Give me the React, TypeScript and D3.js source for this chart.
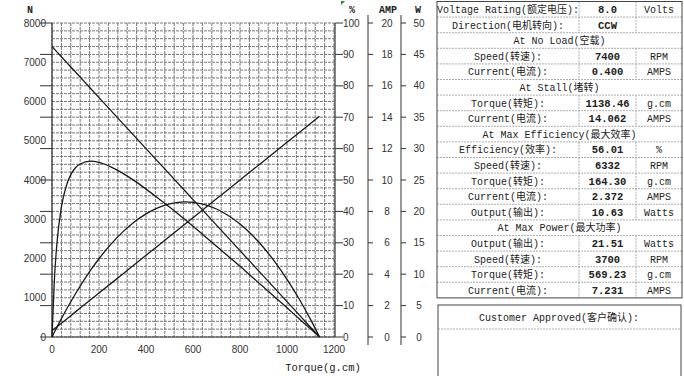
import React from "react";
import * as d3 from "d3";

const torque = [0, 10, 20, 40, 60, 80, 100, 120, 164.3, 200, 250, 300, 350, 400, 450, 500, 569.23, 600, 650, 700, 750, 800, 850, 900, 950, 1000, 1050, 1100, 1138.46];
const speed = [7400, 7335, 7270, 7140, 7010, 6880, 6750, 6620, 6332, 6100, 5775, 5450, 5125, 4800, 4475, 4150, 3700, 3500, 3175, 2850, 2525, 2200, 1875, 1550, 1225, 900, 575, 250, 0];
const current = [0.4, 0.52, 0.64, 0.88, 1.12, 1.36, 1.6, 1.84, 2.37, 2.8, 3.4, 4.0, 4.6, 5.2, 5.8, 6.4, 7.23, 7.6, 8.2, 8.8, 9.4, 10.0, 10.6, 11.2, 11.8, 12.4, 13.0, 13.6, 14.06];
const efficiency = [0, 18.0, 29.0, 41.4, 47.9, 51.7, 53.9, 55.1, 56.0, 55.6, 54.2, 52.2, 49.8, 47.1, 44.3, 41.4, 37.2, 35.3, 32.1, 28.9, 25.7, 22.5, 19.2, 15.9, 12.6, 9.3, 5.9, 2.6, 0];
const output = [0, 0.75, 1.49, 2.92, 4.3, 5.62, 6.89, 8.11, 10.63, 12.46, 14.75, 16.7, 18.32, 19.61, 20.57, 21.19, 21.51, 21.45, 21.08, 20.38, 19.34, 17.98, 16.28, 14.25, 11.89, 9.19, 6.17, 2.81, 0];

const xTicks = [0, 200, 400, 600, 800, 1000, 1200];
const nTicks = [0, 1000, 2000, 3000, 4000, 5000, 6000, 7000, 8000];
const pctTicks = [0, 10, 20, 30, 40, 50, 60, 70, 80, 90, 100];
const ampTicks = [0, 2, 4, 6, 8, 10, 12, 14, 16, 18, 20];
const wTicks = [0, 5, 10, 15, 20, 25, 30, 35, 40, 45, 50];

const tableRows: string[][] = [
  ["Voltage Rating(额定电压):", "8.0", "Volts"],
  ["Direction(电机转向):", "CCW", ""],
  ["At No Load(空载)"],
  ["Speed(转速):", "7400", "RPM"],
  ["Current(电流):", "0.400", "AMPS"],
  ["At Stall(堵转)"],
  ["Torque(转矩):", "1138.46", "g.cm"],
  ["Current(电流):", "14.062", "AMPS"],
  ["At Max Efficiency(最大效率)"],
  ["Efficiency(效率):", "56.01", "%"],
  ["Speed(转速):", "6332", "RPM"],
  ["Torque(转矩):", "164.30", "g.cm"],
  ["Current(电流):", "2.372", "AMPS"],
  ["Output(输出):", "10.63", "Watts"],
  ["At Max Power(最大功率)"],
  ["Output(输出):", "21.51", "Watts"],
  ["Speed(转速):", "3700", "RPM"],
  ["Torque(转矩):", "569.23", "g.cm"],
  ["Current(电流):", "7.231", "AMPS"],
];

const MONO = "'Liberation Mono', 'Noto Sans CJK SC', monospace";
const SANS = "'Liberation Sans', Arial, sans-serif";

export default function App() {
  const left = 52, right = 334, top = 23, bottom = 337;
  const x = d3.scaleLinear().domain([0, 1200]).range([left, right]);
  const yPct = d3.scaleLinear().domain([0, 100]).range([bottom, top]);
  const yN = d3.scaleLinear().domain([0, 8000]).range([bottom, top]);
  const yA = d3.scaleLinear().domain([0, 20]).range([bottom, top]);
  const yW = d3.scaleLinear().domain([0, 50]).range([bottom, top]);

  const mk = (vals: number[], ys: d3.ScaleLinear<number, number>, curve: d3.CurveFactory) =>
    d3.line<number>().x((_, i) => x(torque[i])).y((v) => ys(v)).curve(curve)(vals) || "";

  const vGrid = d3.range(0, 1201, 40);
  const hGrid = d3.range(0, 100.01, 2.5);

  const ampX = 368, wX = 401;

  // table geometry
  const tx0 = 437, tx1 = 579, tx2 = 636, tx3 = 682;
  const ty0 = 1.5, rowH = 15.6;
  const tBottom = ty0 + rowH * tableRows.length;

  return (
    <div style={{ position: "absolute", left: 0, top: 0 }}>
      <svg width={684} height={376} style={{ display: "block", background: "#fff" }}>
        <rect x={0} y={0} width={684} height={376} fill="#fff" />
        {/* grid */}
        <g stroke="#555" strokeWidth={0.8} strokeDasharray="3 1">
          {vGrid.map((t) => (
            <line key={"v" + t} x1={x(t)} x2={x(t)} y1={top} y2={bottom} />
          ))}
          {hGrid.map((p) => (
            <line key={"h" + p} x1={left} x2={right} y1={yPct(p)} y2={yPct(p)} />
          ))}
        </g>
        {/* frame */}
        <g stroke="#333" strokeWidth={1.2}>
          <line x1={left} x2={left} y1={top} y2={bottom} />
          <line x1={left} x2={right + 1} y1={bottom} y2={bottom} />
          <line x1={right + 1} x2={right + 1} y1={top} y2={bottom} />
        </g>
        {/* left axis ticks at 10% positions */}
        <g stroke="#333" strokeWidth={1}>
          {pctTicks.map((p) => (
            <line key={"lt" + p} x1={40} x2={left} y1={yPct(p)} y2={yPct(p)} />
          ))}
        </g>
        <g fontFamily={SANS} fontSize={10} fill="#333" textAnchor="end">
          {nTicks.map((n) => (
            <text key={"n" + n} x={46} y={yN(n) + 3.5}>{n}</text>
          ))}
        </g>
        <text x={30} y={13} fontFamily={MONO} fontSize={10} fontWeight="bold" fill="#222" textAnchor="middle">N</text>
        {/* bottom axis labels */}
        <g fontFamily={SANS} fontSize={10} fill="#333" textAnchor="middle">
          {xTicks.map((t) => (
            <text key={"x" + t} x={x(t)} y={353}>{t}</text>
          ))}
        </g>
        <text x={323} y={371} fontFamily={MONO} fontSize={10.5} fill="#222" textAnchor="middle">Torque(g.cm)</text>

        {/* % axis */}
        <g stroke="#333" strokeWidth={1}>
          {pctTicks.map((p) => (
            <line key={"pt" + p} x1={right + 1} x2={343} y1={yPct(p)} y2={yPct(p)} />
          ))}
        </g>
        <g fontFamily={SANS} fontSize={10} fill="#333">
          {pctTicks.map((p) => (
            <text key={"pl" + p} x={343} y={yPct(p) + 3.5}>{p}</text>
          ))}
        </g>
        <text x={352} y={13} fontFamily={MONO} fontSize={10} fontWeight="bold" fill="#222" textAnchor="middle">%</text>

        {/* AMP axis */}
        <line x1={ampX} x2={ampX} y1={15} y2={345} stroke="#333" strokeWidth={1} />
        <g stroke="#333" strokeWidth={1}>
          {ampTicks.map((a) => (
            <line key={"at" + a} x1={ampX} x2={ampX + 5} y1={yA(a)} y2={yA(a)} />
          ))}
        </g>
        <g fontFamily={SANS} fontSize={10} fill="#333" textAnchor="middle">
          {ampTicks.map((a) => (
            <text key={"al" + a} x={387} y={yA(a) + 3.5}>{a}</text>
          ))}
        </g>
        <text x={388} y={13} fontFamily={MONO} fontSize={10} fontWeight="bold" fill="#222" textAnchor="middle">AMP</text>

        {/* W axis */}
        <line x1={wX} x2={wX} y1={15} y2={345} stroke="#333" strokeWidth={1} />
        <g stroke="#333" strokeWidth={1}>
          {wTicks.map((w) => (
            <line key={"wt" + w} x1={wX} x2={wX + 5} y1={yW(w)} y2={yW(w)} />
          ))}
        </g>
        <g fontFamily={SANS} fontSize={10} fill="#333" textAnchor="middle">
          {wTicks.map((w) => (
            <text key={"wl" + w} x={419} y={yW(w) + 3.5}>{w}</text>
          ))}
        </g>
        <text x={418} y={13} fontFamily={MONO} fontSize={10} fontWeight="bold" fill="#222" textAnchor="middle">W</text>

        {/* curves */}
        <g fill="none" stroke="#1a1a1a" strokeWidth={1.3}>
          <path d={mk(speed, yN, d3.curveLinear)} />
          <path d={mk(current, yA, d3.curveLinear)} />
          <path d={mk(efficiency, yPct, d3.curveMonotoneX)} />
          <path d={mk(output, yW, d3.curveMonotoneX)} />
        </g>

        {/* green marker */}
        <path d="M341,1 L345,1 L341,5 Z" fill="#2a8a2a" />

        {/* table */}
        <g stroke="#999" strokeWidth={0.8} strokeDasharray="2 1">
          {tableRows.map((r, i) =>
            i > 0 ? <line key={"tr" + i} x1={tx0} x2={tx3} y1={ty0 + i * rowH} y2={ty0 + i * rowH} /> : null
          )}
          {tableRows.map((r, i) =>
            r.length > 1 ? (
              <g key={"tc" + i}>
                <line x1={tx1} x2={tx1} y1={ty0 + i * rowH} y2={ty0 + (i + 1) * rowH} />
                <line x1={tx2} x2={tx2} y1={ty0 + i * rowH} y2={ty0 + (i + 1) * rowH} />
              </g>
            ) : null
          )}
        </g>
        <rect x={tx0} y={ty0} width={tx3 - tx0} height={tBottom - ty0} fill="none" stroke="#444" strokeWidth={1} />
        <g fontFamily={MONO} fontSize={10} fill="#222">
          {tableRows.map((r, i) => {
            const yy = ty0 + i * rowH + rowH / 2 + 3.6;
            if (r.length === 1) {
              return (
                <text key={"tt" + i} x={(tx0 + tx3) / 2} y={yy} textAnchor="middle">{r[0]}</text>
              );
            }
            return (
              <g key={"tt" + i}>
                <text x={(tx0 + tx1) / 2} y={yy} textAnchor="middle">{r[0]}</text>
                <text x={(tx1 + tx2) / 2} y={yy} textAnchor="middle" fontWeight="bold" fontSize={10.5}>{r[1]}</text>
                <text x={(tx2 + tx3) / 2} y={yy} textAnchor="middle">{r[2]}</text>
              </g>
            );
          })}
        </g>

        {/* customer approval box */}
        <rect x={438} y={305} width={243} height={80} fill="none" stroke="#444" strokeWidth={1} />
        <line x1={438} x2={681} y1={329} y2={329} stroke="#999" strokeWidth={0.8} strokeDasharray="2 1" />
        <text x={559} y={321} fontFamily={MONO} fontSize={10} fill="#222" textAnchor="middle">Customer Approved(客户确认):</text>
      </svg>
    </div>
  );
}
